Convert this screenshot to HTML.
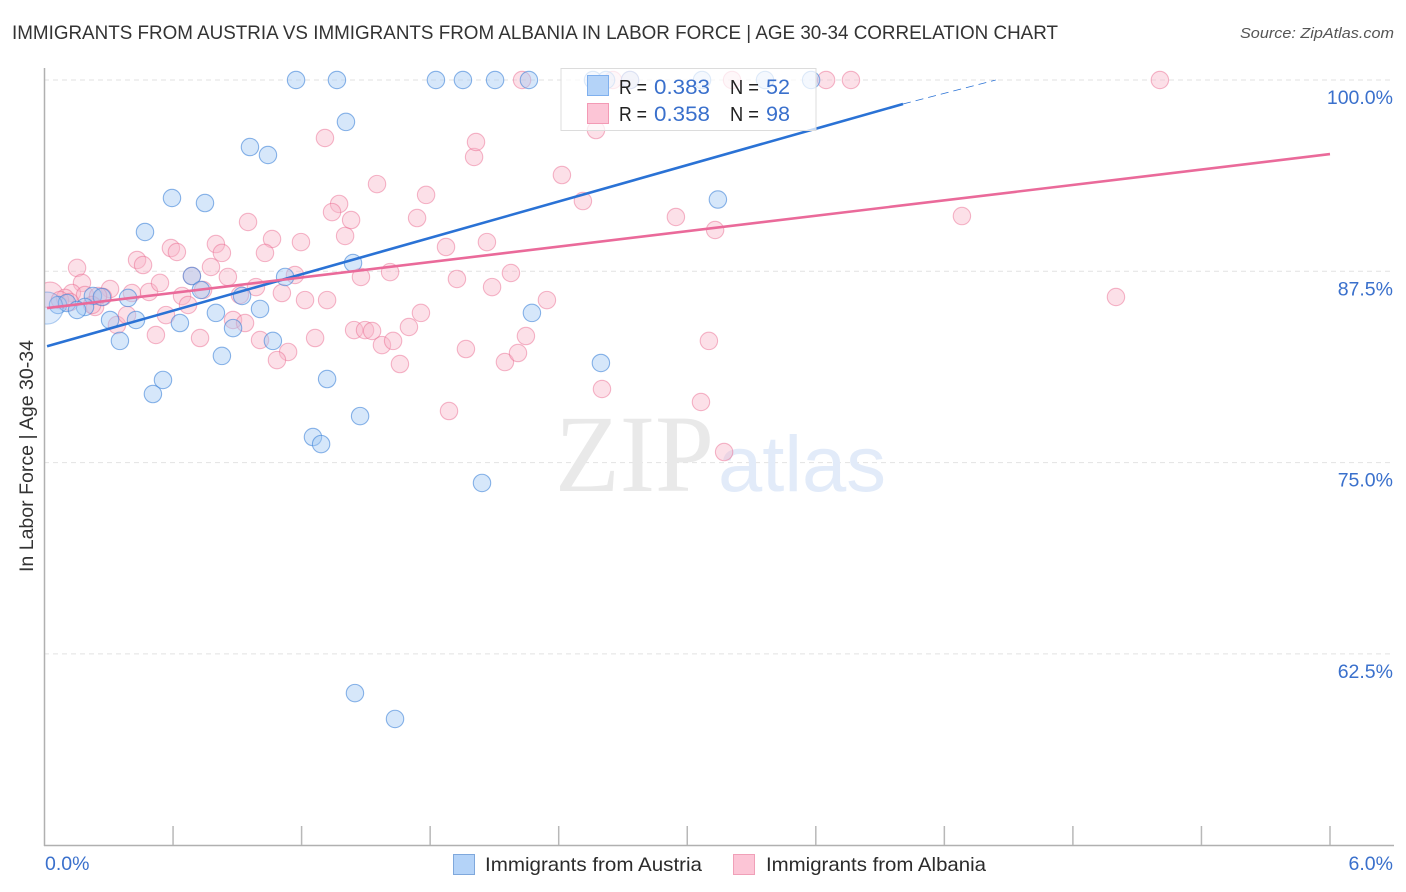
<!DOCTYPE html>
<html lang="en">
<head>
<meta charset="utf-8">
<title>Immigrants from Austria vs Immigrants from Albania in Labor Force | Age 30-34 Correlation Chart</title>
<style>
html,body{margin:0;padding:0;background:#fff;width:1406px;height:892px;overflow:hidden}
svg{display:block;font-family:"Liberation Sans",sans-serif}
</style>
</head>
<body>
<svg id="chart" xmlns="http://www.w3.org/2000/svg" width="1406" height="892" viewBox="0 0 1406 892">
  <defs><clipPath id="plot-clip"><rect x="45" y="60" width="1349" height="786"/></clipPath></defs>
  <text x="12" y="39" font-size="19" fill="#333" textLength="1046" lengthAdjust="spacingAndGlyphs">IMMIGRANTS FROM AUSTRIA VS IMMIGRANTS FROM ALBANIA IN LABOR FORCE | AGE 30-34 CORRELATION CHART</text>
  <text x="1394" y="38" font-size="15" font-style="italic" fill="#555" text-anchor="end" textLength="154" lengthAdjust="spacingAndGlyphs">Source: ZipAtlas.com</text>
  <g id="grid"></g>
  <g>
    <text x="555" y="491" font-family="'Liberation Serif',serif" font-size="110" fill="#e9e9e9" textLength="159" lengthAdjust="spacingAndGlyphs">ZIP</text>
    <text x="718" y="491" font-size="79" fill="#e2ebf9" textLength="168" lengthAdjust="spacingAndGlyphs">atlas</text>
  </g>
  <g id="axes"></g>
  <g id="pts-pink" clip-path="url(#plot-clip)"></g>
  <g id="pts-blue" clip-path="url(#plot-clip)"></g>
  <g id="trends"></g>
  <text transform="translate(33,456) rotate(-90)" font-size="19" fill="#333" text-anchor="middle" textLength="232" lengthAdjust="spacingAndGlyphs">In Labor Force | Age 30-34</text>
  <g>
    <rect x="561" y="68.5" width="255" height="62" fill="#fff" fill-opacity="0.72" stroke="#dcdcdc" stroke-width="1"/>
    <rect x="587.5" y="75.5" width="21" height="20" fill="#b4d3f8" stroke="#7fb0ee" stroke-width="1"/>
    <rect x="587.5" y="103.5" width="21" height="20" fill="#fcc5d6" stroke="#f39ab5" stroke-width="1"/>
    <g font-size="20" fill="#222">
      <text x="619" y="94" textLength="28" lengthAdjust="spacingAndGlyphs">R =</text>
      <text x="730" y="94" textLength="29" lengthAdjust="spacingAndGlyphs">N =</text>
      <text x="619" y="121" textLength="28" lengthAdjust="spacingAndGlyphs">R =</text>
      <text x="730" y="121" textLength="29" lengthAdjust="spacingAndGlyphs">N =</text>
    </g>
    <g font-size="21" fill="#3a70cc">
      <text x="654" y="94" textLength="56" lengthAdjust="spacingAndGlyphs">0.383</text>
      <text x="766" y="94" textLength="24" lengthAdjust="spacingAndGlyphs">52</text>
      <text x="654" y="121" textLength="56" lengthAdjust="spacingAndGlyphs">0.358</text>
      <text x="766" y="121" textLength="24" lengthAdjust="spacingAndGlyphs">98</text>
    </g>
  </g>
  <g>
    <rect x="453.5" y="854.5" width="21" height="20" fill="#b4d3f8" stroke="#7fa8dc" stroke-width="1"/>
    <text x="485" y="871" font-size="19.5" fill="#2b2b2b" textLength="217" lengthAdjust="spacingAndGlyphs">Immigrants from Austria</text>
    <rect x="733.5" y="854.5" width="21" height="20" fill="#fcc5d6" stroke="#f0a0b8" stroke-width="1"/>
    <text x="766" y="871" font-size="19.5" fill="#2b2b2b" textLength="220" lengthAdjust="spacingAndGlyphs">Immigrants from Albania</text>
  </g>
</svg>
<script>
// ---- Chart data ----
const xTickValues = [0.6,1.2,1.8,2.4,3.0,3.6,4.2,4.8,5.4,6.0];
const xEdgeLabels = ["0.0%","6.0%"];
const yTickValues = [100,87.5,75,62.5];
const yTickLabels = ["100.0%","87.5%","75.0%","62.5%"];

const austriaX = [1.174,1.365,1.827,1.953,2.103,2.261,2.560,2.621,2.733,3.069,3.363,3.578,
  1.407,0.959,1.043,0.595,0.749,3.143,0.469,1.440,0.688,1.123,0.730,0.922,0.226,0.268,0.390,0.063,0.105,0.189,0.152,0.012,
  0.800,1.006,2.275,0.306,0.427,0.632,0.880,0.352,1.066,0.828,2.597,0.553,1.319,0.506,1.473,1.253,1.291,2.042,1.449,1.636];
const austriaY = [100,100,100,100,100,100,100,100,100,100,100,100,
  97.26,95.62,95.10,92.29,91.96,92.19,90.07,88.04,87.19,87.13,86.28,85.89,85.89,85.82,85.76,85.30,85.43,85.17,84.97,85.10,
  84.78,85.04,84.78,84.32,84.32,84.12,83.79,82.95,82.95,81.97,81.51,80.40,80.46,79.48,78.04,76.67,76.21,73.67,59.94,58.25];

const albaniaX = [0.152,0.175,0.026,0.128,0.096,0.236,0.306,0.273,0.408,0.488,0.539,0.338,0.385,0.520,0.567,0.642,0.670,0.726,0.777,0.856,
  0.800,0.828,0.950,1.062,1.029,1.197,0.590,0.618,0.432,0.460,0.688,0.740,0.912,0.987,1.169,1.108,1.216,0.880,0.936,1.006,
  1.137,1.085,1.263,1.319,1.445,1.496,1.529,1.575,1.627,1.659,1.701,1.757,1.477,1.613,1.403,1.431,1.375,1.342,1.309,1.552,
  1.739,1.781,1.874,1.925,2.089,2.065,2.177,2.345,2.005,2.014,2.415,2.513,2.574,1.967,2.149,2.210,2.247,1.888,2.602,3.064,
  3.101,3.172,2.947,3.130,4.282,5.001,5.206,3.764,3.648,3.209,2.733,2.653,2.229,0.072,0.189,0.119,0.250,0.222];
const albaniaY = [87.72,86.74,85.95,86.08,85.76,85.17,86.34,85.82,86.08,86.15,86.74,83.99,84.64,83.34,84.64,85.89,85.30,83.14,87.78,87.13,
  89.28,88.70,90.72,89.61,88.70,89.41,89.02,88.76,88.24,87.91,87.19,86.28,85.95,86.47,87.26,86.08,85.62,84.32,84.12,83.01,
  82.23,81.70,83.14,85.62,83.66,83.66,83.60,82.68,82.95,81.44,83.86,84.78,87.13,87.45,89.81,90.85,91.90,91.37,96.21,93.20,
  90.98,92.49,89.09,87.00,86.47,89.41,87.39,85.62,94.97,95.95,93.79,92.09,96.73,82.42,81.57,82.16,83.27,78.37,79.81,78.96,
  82.95,75.69,91.05,90.20,91.11,85.82,100,100,100,100,100,100,100,85.62,85.95,85.49,85.89,85.30];

const austriaTrendX = [0.012,4.007];
const austriaTrendY = [82.60,98.43];
const austriaTrendDashX = [4.007,4.44];
const austriaTrendDashY = [98.43,100];
const albaniaTrendX = [0.012,6.0];
const albaniaTrendY = [85.10,95.16];

// index of the one enlarged marker in each series
const austriaLargeIndex = 31;
const albaniaLargeIndex = 2;

// ---- Axis functions ----
const sx = v => 44.5 + v / 6 * 1285.5;
const sy = v => 80 + (100 - v) / 12.5 * 191.3;
const NS = "http://www.w3.org/2000/svg";
function mk(tag, parent, attrs, text){
  const el = document.createElementNS(NS, tag);
  for (const k in attrs) el.setAttribute(k, attrs[k]);
  if (text !== undefined) el.textContent = text;
  document.getElementById(parent).appendChild(el);
  return el;
}

// gridlines + y tick labels
yTickValues.forEach((v,i)=>{
  const g = mk("line","grid",{x1:44,x2:1394,y1:sy(v),y2:sy(v),stroke:"#e2e2e2","stroke-width":1,"stroke-dasharray":"5 4"});
  
  
  const t = mk("text","axes",{x:1393,y:sy(v)+24,"font-size":19.5,fill:"#3a70cc","text-anchor":"end"},yTickLabels[i]);
  
  
});

// axes
const yAxis = mk("line","axes",{x1:44.5,x2:44.5,y1:68,y2:846,stroke:"#b0b0b0","stroke-width":1.5});


const xAxis = mk("line","axes",{x1:44,x2:1394,y1:845.5,y2:845.5,stroke:"#b0b0b0","stroke-width":1.5});


xTickValues.forEach(v=>{
  const tk = mk("line","axes",{x1:sx(v),x2:sx(v),y1:826,y2:845,stroke:"#b8b8b8","stroke-width":1.5});
  
  
});
const xl0 = mk("text","axes",{x:45,y:870,"font-size":19.5,fill:"#3a70cc"},xEdgeLabels[0]);


const xl1 = mk("text","axes",{x:1393,y:870,"font-size":19.5,fill:"#3a70cc","text-anchor":"end"},xEdgeLabels[1]);



// points
albaniaX.forEach((x,i)=>{
  const c = mk("circle","pts-pink",{cx:sx(x),cy:sy(albaniaY[i]),r:i===albaniaLargeIndex?13:8.7,fill:"#f9b4c9","fill-opacity":0.42,stroke:"#e8628a","stroke-opacity":0.45,"stroke-width":1.1});
  
  
});
austriaX.forEach((x,i)=>{
  const c = mk("circle","pts-blue",{cx:sx(x),cy:sy(austriaY[i]),r:i===austriaLargeIndex?16:8.7,fill:"#a4c9f5","fill-opacity":i===austriaLargeIndex?0.35:0.45,stroke:"#3f84d9","stroke-opacity":i===austriaLargeIndex?0.4:0.6,"stroke-width":1.1});
  
  
});

// trend lines
const tb = mk("line","trends",{x1:sx(austriaTrendX[0]),y1:sy(austriaTrendY[0]),x2:sx(austriaTrendX[1]),y2:sy(austriaTrendY[1]),stroke:"#2a72d5","stroke-width":2.6});


const td = mk("line","trends",{x1:sx(austriaTrendDashX[0]),y1:sy(austriaTrendDashY[0]),x2:sx(austriaTrendDashX[1]),y2:sy(austriaTrendDashY[1]),stroke:"#2a72d5","stroke-width":0.8,"stroke-dasharray":"8 5"});


const tp = mk("line","trends",{x1:sx(albaniaTrendX[0]),y1:sy(albaniaTrendY[0]),x2:sx(albaniaTrendX[1]),y2:sy(albaniaTrendY[1]),stroke:"#ea6a9a","stroke-width":2.6});


</script>
</body>
</html>
